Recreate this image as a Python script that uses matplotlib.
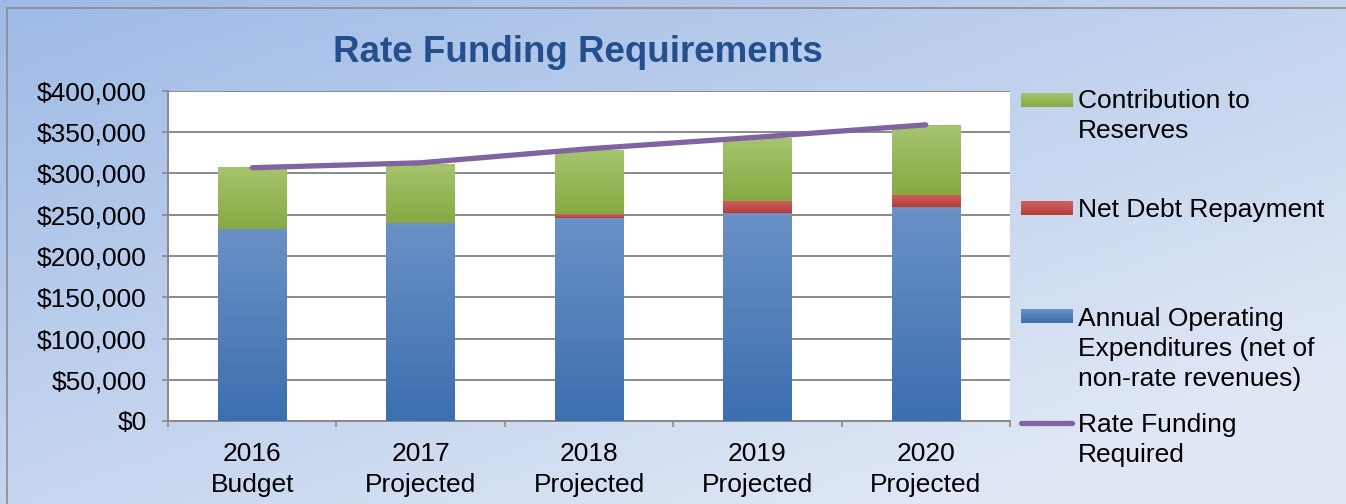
import numpy as np
import matplotlib
matplotlib.use("Agg")
import matplotlib.pyplot as plt
from matplotlib.lines import Line2D
from matplotlib.colors import to_rgb
from matplotlib.ticker import FuncFormatter

# data
years = ["2016\nBudget", "2017\nProjected", "2018\nProjected", "2019\nProjected", "2020\nProjected"]
operating = [232700, 240000, 246500, 252000, 259400]
debt = [0, 0, 4500, 14700, 14600]
reserves = [75200, 72000, 78000, 75900, 84800]
rate_funding = [307000, 313000, 330000, 344000, 359000]

legend_labels = ["Contribution to\nReserves", "Net Debt Repayment",
                 "Annual Operating\nExpenditures (net of\nnon-rate revenues)",
                 "Rate Funding\nRequired"]

BLUE = "#4F81BD"
RED = "#C0504D"
GREEN = "#9BBB59"
PURPLE = "#8064A2"
# (top, bottom) gradient ends for the bar fills
GRAD = {BLUE: ("#6a91c6", "#3b6fb0"), RED: ("#cd6360", "#b83c38"), GREEN: ("#a6c46e", "#86aa42")}

plt.rcParams['font.family'] = ['Liberation Sans', 'DejaVu Sans']

W, H = 1346, 504
fig = plt.figure(figsize=(W / 100, H / 100), dpi=100)

def fx(px):
    return px / W

def fy(py):
    return 1 - py / H

def vgrad(top, bottom, n=64):
    a = np.array(to_rgb(top))
    b = np.array(to_rgb(bottom))
    s = np.linspace(0, 1, n)[:, None]
    return (a * (1 - s) + b * s)[:, None, :]

def shade_bars(ax, bars, col):
    top, bottom = GRAD[col]
    for p in bars:
        if p.get_height() <= 0:
            continue
        x0, y0 = p.get_x(), p.get_y()
        im = ax.imshow(vgrad(top, bottom), aspect="auto", origin="upper",
                       extent=[x0, x0 + p.get_width(), y0, y0 + p.get_height()], zorder=3.5)
        im.set_clip_path(p)

# background gradient
bg = fig.add_axes([0, 0, 1, 1], zorder=-10)
gx, gy = np.meshgrid(np.linspace(0, 1, 200), np.linspace(0, 1, 100))
t = np.clip(0.55 * gx + 0.6 * gy, 0, 1)
c0 = np.array([0.62, 0.73, 0.90])
c1 = np.array([0.88, 0.91, 0.96])
img = c0[None, None, :] * (1 - t[..., None]) + c1[None, None, :] * t[..., None]
bg.imshow(img, aspect="auto", extent=[0, 1, 0, 1], origin="upper")
bg.plot([fx(7), fx(7), 1], [0, fy(8), fy(8)], color="#8c8c8c", lw=1.2)
bg.set_xlim(0, 1)
bg.set_ylim(0, 1)
bg.axis("off")

# plot area
ax = fig.add_axes([fx(168), fy(421), fx(1010) - fx(168), fy(91) - fy(421)])
ax.set_facecolor("white")
x = np.arange(len(years))
bw = 0.405
b1 = ax.bar(x, operating, bw, color=BLUE, zorder=3)
b2 = ax.bar(x, debt, bw, bottom=operating, color=RED, zorder=3)
b3 = ax.bar(x, reserves, bw, bottom=np.array(operating) + np.array(debt), color=GREEN, zorder=3)
shade_bars(ax, b1, BLUE)
shade_bars(ax, b2, RED)
shade_bars(ax, b3, GREEN)
ax.plot(x, rate_funding, color=PURPLE, lw=3.8, solid_capstyle="round", zorder=4)

ax.set_xlim(-0.5, len(years) - 0.5)
ax.set_ylim(0, 400000)
ax.set_yticks(np.arange(0, 400001, 50000))
ax.yaxis.set_major_formatter(FuncFormatter(lambda v, p: f"${v:,.0f}"))
ax.grid(axis="y", color="#8a8a8a", lw=1.4, zorder=0)
ax.set_xticks(x)
ax.set_xticklabels(years, fontsize=19, linespacing=1.38)
ax.set_xticks(np.arange(-0.5, len(years)), minor=True)
ax.tick_params(axis="x", which="major", length=0, pad=15)
ax.tick_params(axis="x", which="minor", length=4.5, color="#8a8a8a", width=1.2, direction="out")
ax.tick_params(axis="y", labelsize=19, length=4.5, color="#8a8a8a", width=1.2, pad=11)
for side in ["top", "right"]:
    ax.spines[side].set_visible(False)
ax.spines["left"].set_color("#8a8a8a")
ax.spines["left"].set_linewidth(1.4)
ax.spines["bottom"].set_color("#8a8a8a")
ax.spines["bottom"].set_linewidth(1.4)

fig.text(fx(578), fy(52), "Rate Funding Requirements", fontsize=26.5, fontweight="bold",
         color="#23508C", ha="center", va="center")

# legend drawn by hand to match the uneven spacing
swatches = [(GREEN, 100), (RED, 208), (BLUE, 316)]
for col, py in swatches:
    top, bottom = GRAD[col]
    sw = fig.add_axes([fx(1021), fy(py + 7), fx(1073) - fx(1021), fy(py - 7) - fy(py + 7)])
    sw.imshow(vgrad(top, bottom), aspect="auto", origin="upper", extent=[0, 1, 0, 1])
    sw.axis("off")
fig.add_artist(Line2D([fx(1021), fx(1072)], [fy(423), fy(423)], transform=fig.transFigure,
                      color=PURPLE, lw=3.8, solid_capstyle="round"))
first_line_centres = [99, 208, 317, 423]
for lab, py in zip(legend_labels, first_line_centres):
    fig.text(fx(1078), fy(py - 10), lab, fontsize=19, ha="left", va="top",
             linespacing=1.32, transform=fig.transFigure)

fig.savefig("out.png", dpi=100)
